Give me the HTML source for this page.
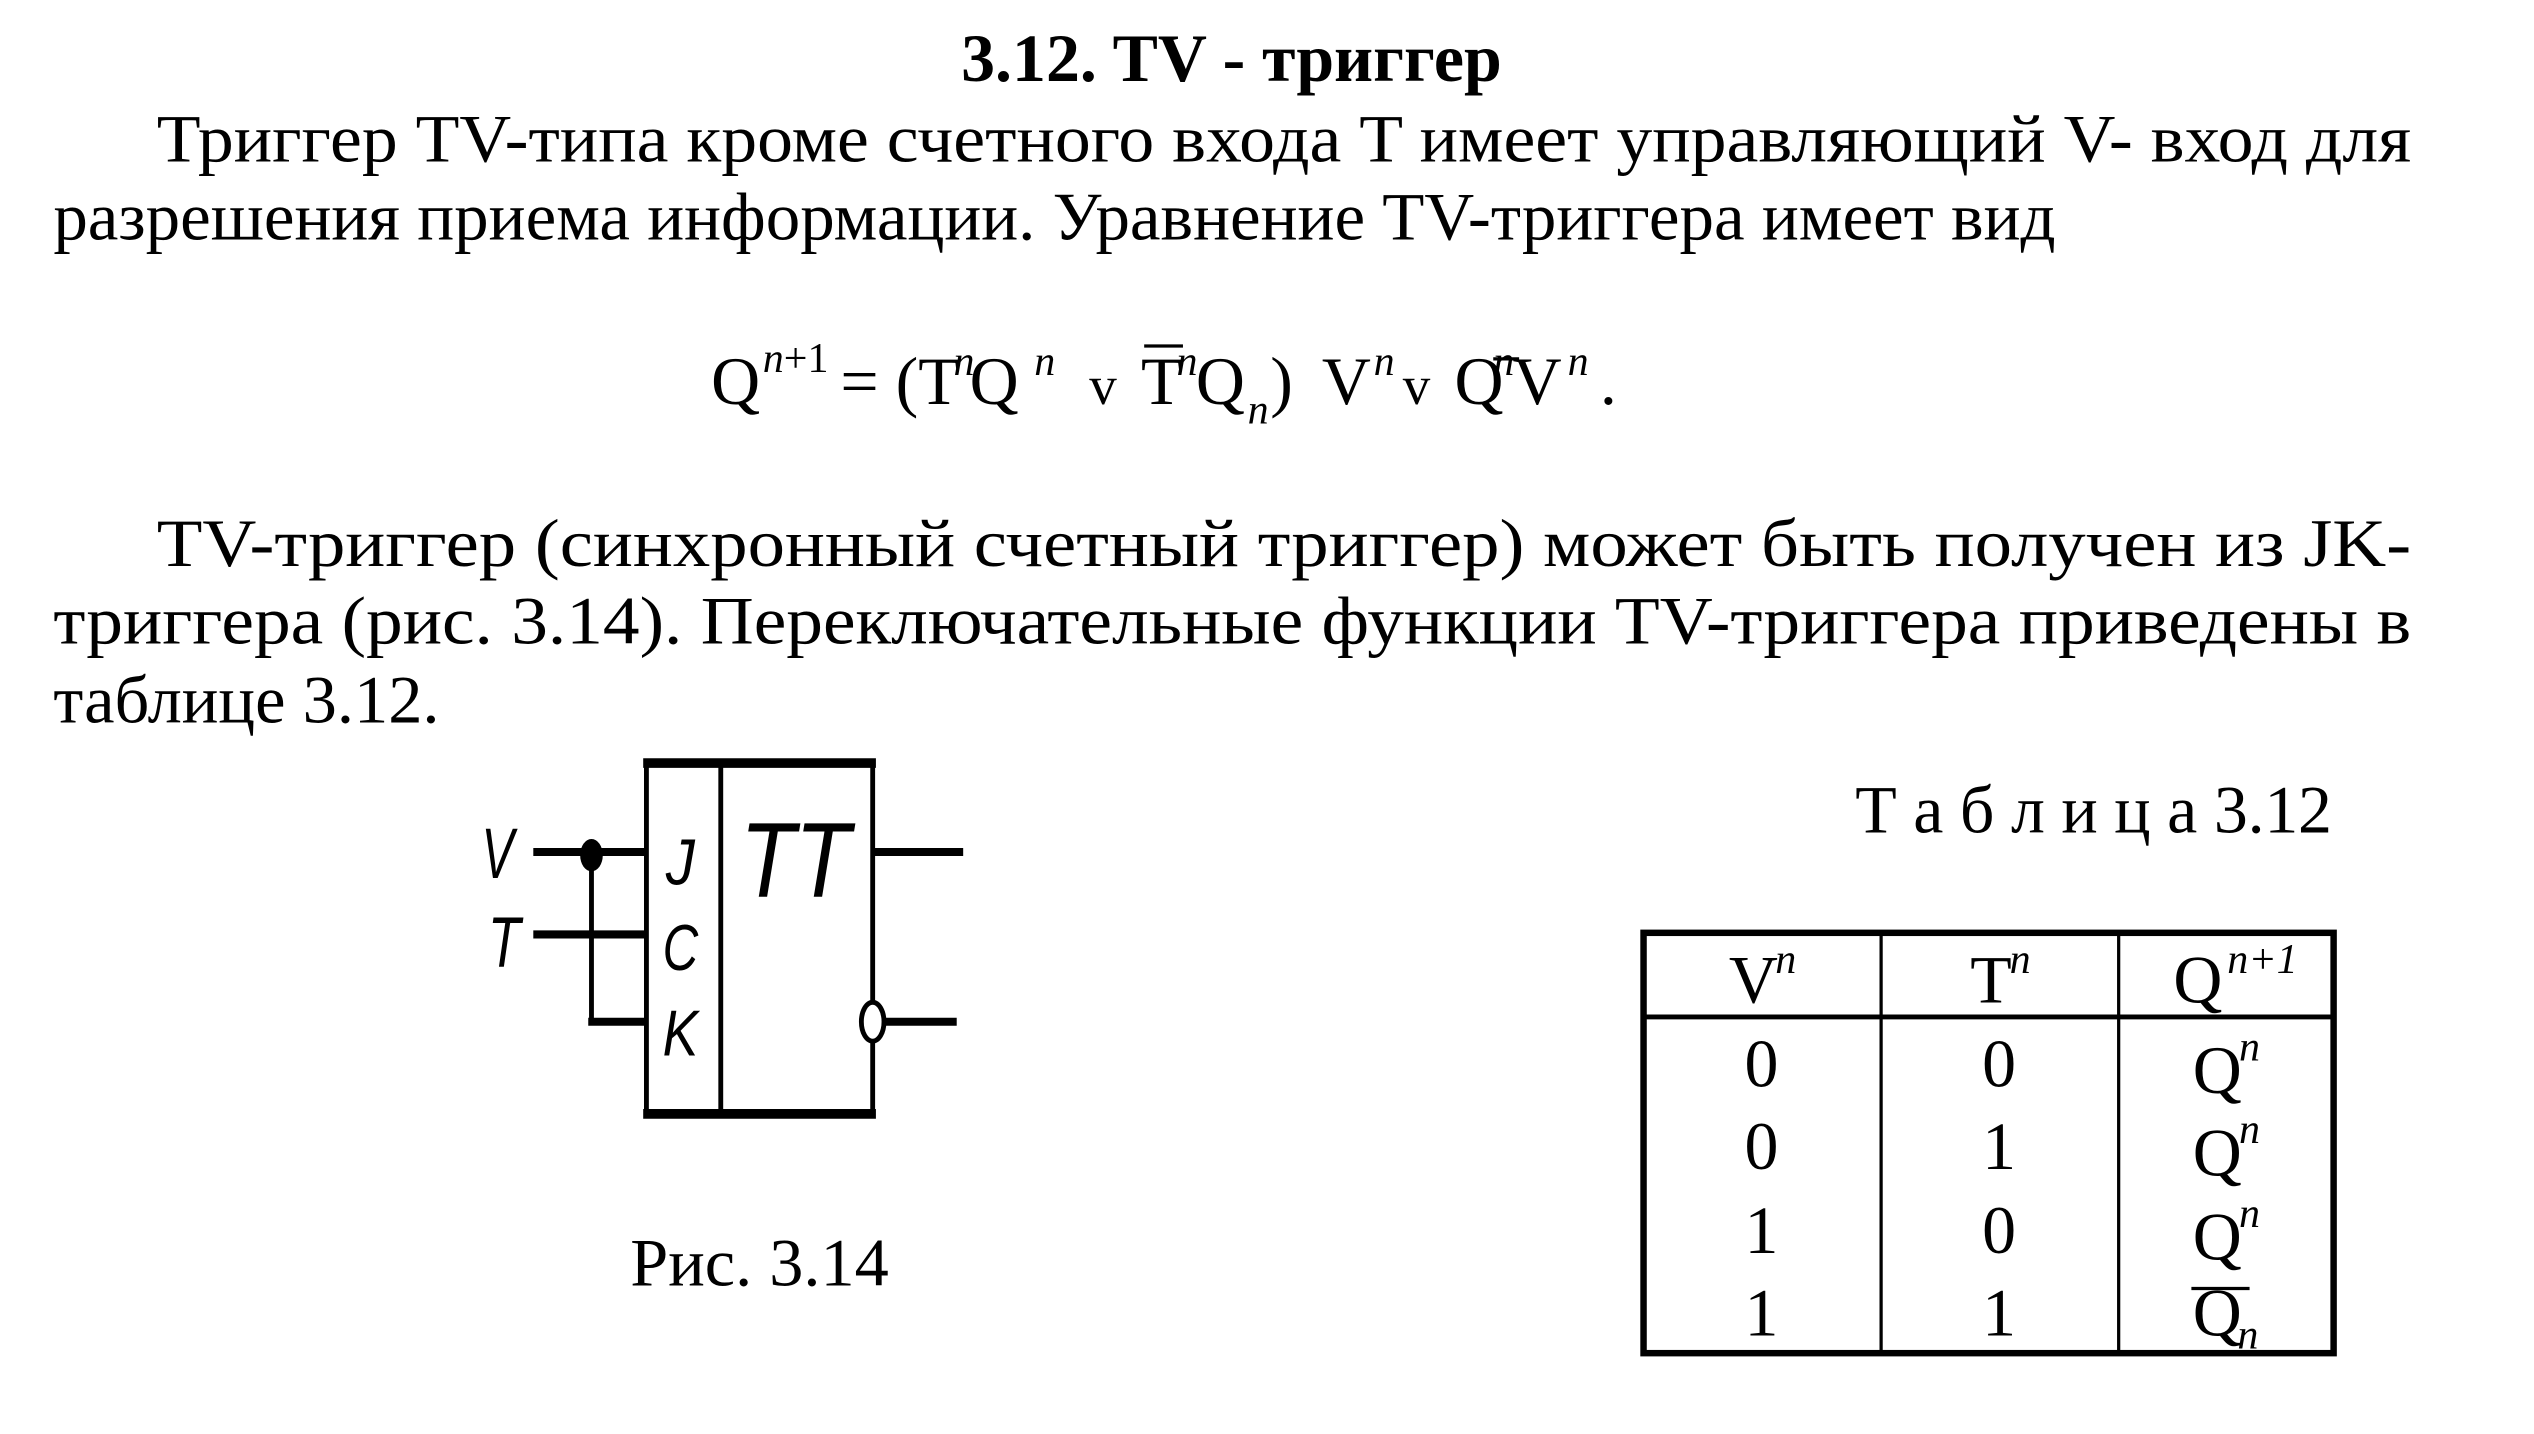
<!DOCTYPE html>
<html><head><meta charset="utf-8"><style>
html,body{margin:0;padding:0;background:#fff;overflow:hidden;}
svg{display:block;}
</style></head><body>
<svg width="2534" height="1434" viewBox="0 0 1568 887" preserveAspectRatio="none" xmlns="http://www.w3.org/2000/svg" font-family="'Liberation Serif', serif">
<text x="762" y="50" font-size="42" font-weight="bold" text-anchor="middle">3.12.  TV - триггер</text>
<text x="97" y="100" font-size="42" textLength="1395" lengthAdjust="spacingAndGlyphs">Триггер TV-типа кроме счетного входа T имеет управляющий V- вход для</text>
<text x="33" y="148" font-size="42" textLength="1239" lengthAdjust="spacingAndGlyphs">разрешения приема информации. Уравнение TV-триггера имеет вид</text>

<g font-size="42">
<text x="440" y="250">Q</text>
<text x="472" y="230" font-size="26"><tspan font-style="italic">n</tspan>+1</text>
<text x="520" y="250">= (T</text>
<text x="590" y="232" font-size="26" font-style="italic">n</text>
<text x="600" y="250">Q</text>
<text x="640" y="232" font-size="26" font-style="italic">n</text>
<text x="674" y="250" font-size="34">v</text>
<text x="706" y="250">T</text>
<line x1="708" y1="214" x2="732" y2="214" stroke="#000" stroke-width="2"/>
<text x="728" y="232" font-size="26" font-style="italic">n</text>
<text x="740" y="250">Q</text>
<text x="772" y="262" font-size="26" font-style="italic">n</text>
<text x="786" y="250">)</text>
<text x="818" y="250">V</text>
<text x="850" y="232" font-size="26" font-style="italic">n</text>
<text x="868" y="250" font-size="34">v</text>
<text x="900" y="250">Q</text>
<line x1="924" y1="222" x2="940" y2="222" stroke="#000" stroke-width="2"/>
<text x="924" y="232" font-size="26" font-style="italic">n</text>
<text x="936" y="250">V</text>
<text x="970" y="232" font-size="26" font-style="italic">n</text>
<text x="990" y="250">.</text>
</g>

<text x="97" y="350" font-size="42" textLength="1395" lengthAdjust="spacingAndGlyphs">TV-триггер (синхронный счетный триггер) может быть получен из JK-</text>
<text x="33" y="398" font-size="42" textLength="1459" lengthAdjust="spacingAndGlyphs">триггера (рис. 3.14). Переключательные функции TV-триггера приведены в</text>
<text x="33" y="447" font-size="42" textLength="239" lengthAdjust="spacingAndGlyphs">таблице 3.12.</text>

<!-- diagram -->
<g stroke="#000" fill="none">
<rect x="400" y="472" width="140" height="217" stroke-width="3"/>
<line x1="398" y1="472" x2="542" y2="472" stroke-width="6"/>
<line x1="398" y1="689" x2="542" y2="689" stroke-width="6"/>
<line x1="446" y1="472" x2="446" y2="689" stroke-width="3"/>
<line x1="330" y1="527" x2="400" y2="527" stroke-width="5"/>
<line x1="330" y1="578" x2="400" y2="578" stroke-width="5"/>
<line x1="366" y1="527" x2="366" y2="632" stroke-width="3"/>
<line x1="364" y1="632" x2="400" y2="632" stroke-width="5"/>
<line x1="540" y1="527" x2="596" y2="527" stroke-width="5"/>
<line x1="548" y1="632" x2="592" y2="632" stroke-width="5"/>
<ellipse cx="540" cy="632" rx="7" ry="12" stroke-width="3" fill="#fff"/>
</g>
<ellipse cx="366" cy="529" rx="7" ry="10" fill="#000"/>
<g font-family="'Liberation Sans', sans-serif" font-style="italic">
<text x="298" y="543" font-size="44" textLength="20" lengthAdjust="spacingAndGlyphs">V</text>
<text x="302" y="598" font-size="44" textLength="20" lengthAdjust="spacingAndGlyphs">T</text>
<text x="412" y="547" font-size="40" textLength="18" lengthAdjust="spacingAndGlyphs">J</text>
<text x="410" y="600" font-size="40" textLength="22" lengthAdjust="spacingAndGlyphs">C</text>
<text x="410" y="653" font-size="40" textLength="22" lengthAdjust="spacingAndGlyphs">K</text>
<text x="458" y="555" font-size="66" textLength="68" lengthAdjust="spacingAndGlyphs">TT</text>
</g>
<text x="390" y="795" font-size="42" textLength="160" lengthAdjust="spacingAndGlyphs">Рис. 3.14</text>

<!-- table -->
<text x="1148" y="515" font-size="42" textLength="295" lengthAdjust="spacing">Т а б л и ц а 3.12</text>
<g stroke="#000">
<rect x="1017" y="577" width="427" height="260" fill="none" stroke-width="4"/>
<line x1="1164" y1="577" x2="1164" y2="837" stroke-width="2"/>
<line x1="1311" y1="577" x2="1311" y2="837" stroke-width="2"/>
<line x1="1017" y1="629" x2="1444" y2="629" stroke-width="3"/>
<line x1="1356" y1="797" x2="1392" y2="797" stroke-width="2"/>
</g>
<g font-size="42" text-anchor="middle">
<text x="1085" y="620">V</text><text x="1105" y="602" font-size="26" font-style="italic">n</text>
<text x="1232" y="620">T</text><text x="1250" y="602" font-size="26" font-style="italic">n</text>
<text x="1360" y="620">Q</text><text x="1400" y="602" font-size="26" font-style="italic">n+1</text>
<text x="1090" y="672">0</text><text x="1237" y="672">0</text>
<text x="1090" y="723">0</text><text x="1237" y="723">1</text>
<text x="1090" y="775">1</text><text x="1237" y="775">0</text>
<text x="1090" y="826">1</text><text x="1237" y="826">1</text>
<text x="1372" y="676">Q</text><text x="1392" y="656" font-size="26" font-style="italic">n</text>
<text x="1372" y="727">Q</text><text x="1392" y="707" font-size="26" font-style="italic">n</text>
<text x="1372" y="779">Q</text><text x="1392" y="759" font-size="26" font-style="italic">n</text>
<text x="1372" y="826">Q</text><text x="1391" y="834" font-size="26" font-style="italic">n</text>
</g>
</svg>
</body></html>
